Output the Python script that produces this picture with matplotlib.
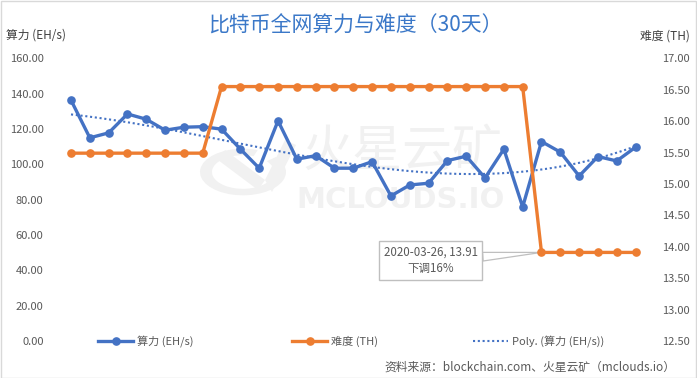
import numpy as np
import matplotlib
matplotlib.use("Agg")
import matplotlib.pyplot as plt
from matplotlib.patches import Rectangle, Wedge, Polygon
from matplotlib.lines import Line2D

plt.rcParams['font.family'] = ['Noto Sans CJK SC', 'DejaVu Sans']

# ---- data ----
dates = [f"2020-03-{d:02d}" for d in range(1, 32)]
hashrate = [136.3, 115.0, 117.8, 128.5, 125.5, 119.3, 121.0, 121.3, 119.9, 108.6,
            97.8, 124.6, 102.9, 104.9, 97.8, 97.8, 101.5, 82.1, 88.3, 89.3,
            102.1, 104.6, 92.3, 108.6, 75.9, 112.9, 106.9, 93.4, 104.4, 101.9, 109.7]
difficulty = [15.49] * 8 + [16.55] * 17 + [13.91] * 6
left_ticks = [0, 20, 40, 60, 80, 100, 120, 140, 160]
right_ticks = [12.5, 13.0, 13.5, 14.0, 14.5, 15.0, 15.5, 16.0, 16.5, 17.0]
poly_order = 3

title = "比特币全网算力与难度（30天）"
label_hash = "算力 (EH/s)"
label_diff = "难度 (TH)"
label_poly = "Poly. (算力 (EH/s))"
source = "资料来源：blockchain.com、火星云矿（mclouds.io）"
annot_idx = 25
annot_text = f"{dates[annot_idx]}, {difficulty[annot_idx]:.2f}\n下调16%"

BLUE = '#4472C4'
ORANGE = '#ED7D31'
GRAY = '#595959'

W, H = 697, 378
fig = plt.figure(figsize=(W / 100, H / 100), dpi=100)

def fx(px):
    return px / W

def fy(py):
    return 1 - py / H

# border
fig.patches.append(Rectangle((0.5 / W, 0.5 / H), 1 - 1.5 / W, 1 - 1.5 / H, transform=fig.transFigure,
                             fill=False, ec='#D9D9D9', lw=1, zorder=-5))

# watermark
wm = '#F1F1F1'
fig.text(fx(402), fy(152), "火星云矿", fontsize=36, color=wm, ha='center', va='center', zorder=-2)
fig.text(fx(401), fy(200), "MCLOUDS.IO", fontsize=21, color=wm, ha='center', va='center',
         fontweight='bold', family='DejaVu Sans', zorder=-2)
cx, cy = 243, 172
fig.patches.append(Wedge((fx(cx), fy(cy)), fx(43), 70, 400, width=fx(12), transform=fig.transFigure,
                         fc=wm, ec='none', zorder=-2))
fig.patches.append(Polygon([(fx(225), fy(150)), (fx(265), fy(180)), (fx(258), fy(190)), (fx(218), fy(160))],
                           closed=True, transform=fig.transFigure, fc=wm, ec='none', zorder=-2))
fig.patches.append(Polygon([(fx(265), fy(180)), (fx(285), fy(140)), (fx(296), fy(145)), (fx(272), fy(192))],
                           closed=True, transform=fig.transFigure, fc=wm, ec='none', zorder=-2))

left, right, top, bottom = 61.6, 645.0, 58.3, 341.0
ax = fig.add_axes([fx(left), fy(bottom), fx(right - left), (bottom - top) / H])
ax2 = ax.twinx()
for a in (ax, ax2):
    a.patch.set_visible(False)
    for s in a.spines.values():
        s.set_visible(False)
    a.tick_params(length=0, labelsize=8, labelcolor=GRAY)

x = np.arange(len(hashrate))
ax.plot(x, hashrate, color=BLUE, lw=2.4, marker='o', ms=5.2, zorder=3)
coef = np.polyfit(x, hashrate, poly_order)
xs = np.linspace(x[0], x[-1], 200)
ax.plot(xs, np.polyval(coef, xs), color=BLUE, lw=1.5, ls=(0, (1, 1.3)), zorder=2)
ax.set_ylim(0, 160)
ax.set_yticks(left_ticks)
ax.set_yticklabels([f"{v:.2f}" for v in left_ticks])
ax.tick_params(axis='y', pad=13)
ax.set_xlim(-0.5, len(x) - 0.5)
ax.set_xticks([])

ax2.plot(x, difficulty, color=ORANGE, lw=2.4, marker='o', ms=5.2, zorder=3)
ax2.set_ylim(12.5, 17.0)
ax2.set_yticks(right_ticks)
ax2.set_yticklabels([f"{v:.2f}" for v in right_ticks])
ax2.tick_params(axis='y', pad=12)

ax2.annotate(annot_text, xy=(annot_idx, difficulty[annot_idx]), xycoords='data',
             xytext=(430.5, H - 260.5), textcoords='figure pixels',
             ha='center', va='center', fontsize=8.3, color=GRAY, linespacing=1.35,
             bbox=dict(boxstyle='square,pad=0.42', fc='white', ec='#BFBFBF', lw=1),
             arrowprops=dict(arrowstyle='wedge,tail_width=0.75,shrink_factor=0.5', fc='white', ec='#BFBFBF',
                             lw=0.9, shrinkA=0, shrinkB=0),
             zorder=1)

# titles
fig.text(fx(355), fy(26), title, fontsize=15, color='#3B78C8', ha='center', va='center')
fig.text(fx(6), fy(35), label_hash, fontsize=8.5, color='#404040', ha='left', va='center')
fig.text(fx(690), fy(36), label_diff, fontsize=8.5, color='#404040', ha='right', va='center')
fig.text(fx(675), fy(367), source, fontsize=8.5, color=GRAY, ha='right', va='center')

# legends
h1 = Line2D([], [], color=BLUE, lw=2.4, marker='o', ms=5.2)
h2 = Line2D([], [], color=ORANGE, lw=2.4, marker='o', ms=5.2)
h3 = Line2D([], [], color=BLUE, lw=1.5, ls=(0, (1, 1.3)))
for h, lab, xpix in [(h1, label_hash, 98), (h2, label_diff, 292), (h3, label_poly, 473)]:
    lg = fig.legend([h], [lab], loc='center left', bbox_to_anchor=(fx(xpix), fy(341)),
                    frameon=False, fontsize=8, handlelength=3.15, handletextpad=0.35,
                    borderpad=0, borderaxespad=0, labelcolor=GRAY)

fig.savefig("out.png", dpi=100)
